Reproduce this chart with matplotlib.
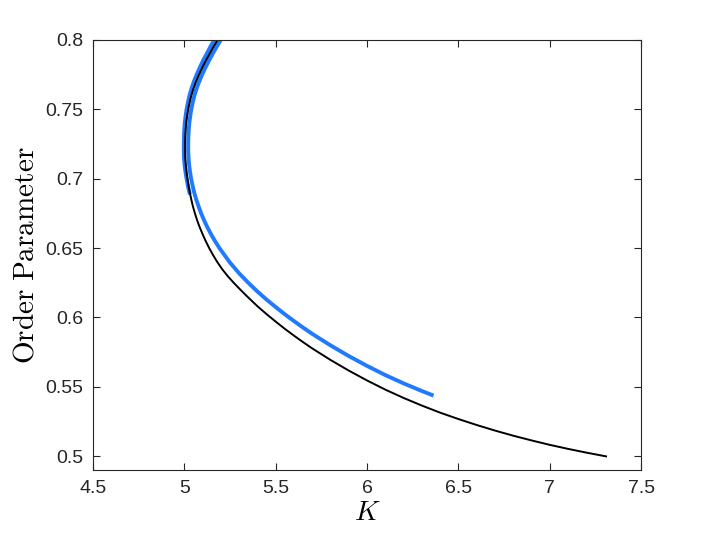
import matplotlib
matplotlib.use("Agg")
import matplotlib.pyplot as plt

# Black curve (K, order parameter)
K_black = [5.182, 5.159, 5.138, 5.117, 5.098, 5.080, 5.064, 5.050, 5.038, 5.029,
           5.021, 5.015, 5.010, 5.007, 5.005, 5.004, 5.004, 5.005, 5.008, 5.012,
           5.017, 5.023, 5.030, 5.038, 5.047, 5.058, 5.070, 5.084, 5.100, 5.117,
           5.136, 5.157, 5.180, 5.206, 5.236, 5.270, 5.307, 5.345, 5.400, 5.450,
           5.500, 5.550, 5.600, 5.650, 5.700, 5.800, 5.900, 6.000, 6.100, 6.200,
           6.300, 6.400, 6.500, 6.600, 6.700, 6.800, 6.900, 7.000, 7.100, 7.200,
           7.308]
r_black = [0.800, 0.795, 0.790, 0.785, 0.780, 0.775, 0.770, 0.765, 0.760, 0.755,
           0.750, 0.745, 0.740, 0.735, 0.730, 0.725, 0.720, 0.715, 0.710, 0.705,
           0.700, 0.695, 0.690, 0.685, 0.680, 0.675, 0.670, 0.665, 0.660, 0.655,
           0.650, 0.645, 0.640, 0.635, 0.630, 0.625, 0.620, 0.615, 0.6081, 0.6024,
           0.5970, 0.5918, 0.5869, 0.5822, 0.5777, 0.5694, 0.5617, 0.5546, 0.5480, 0.5420,
           0.5365, 0.5314, 0.5268, 0.5225, 0.5185, 0.5148, 0.5114, 0.5082, 0.5053, 0.5026,
           0.4999]

# Blue curve, right/lower branch
K_blue = [5.199, 5.176, 5.155, 5.134, 5.115, 5.097, 5.081, 5.067, 5.055, 5.046,
          5.038, 5.032, 5.027, 5.024, 5.022, 5.021, 5.021, 5.023, 5.026, 5.031,
          5.037, 5.045, 5.054, 5.065, 5.078, 5.092, 5.108, 5.126, 5.146, 5.168,
          5.192, 5.250, 5.300, 5.350, 5.400, 5.450, 5.500, 5.550, 5.600, 5.650,
          5.700, 5.800, 5.900, 6.000, 6.100, 6.200, 6.300, 6.354]
r_blue = [0.800, 0.795, 0.790, 0.785, 0.780, 0.775, 0.770, 0.765, 0.760, 0.755,
          0.750, 0.745, 0.740, 0.735, 0.730, 0.725, 0.720, 0.715, 0.710, 0.705,
          0.700, 0.695, 0.690, 0.685, 0.680, 0.675, 0.670, 0.665, 0.660, 0.655,
          0.650, 0.6395, 0.6318, 0.6250, 0.6187, 0.6129, 0.6075, 0.6023, 0.5974, 0.5927,
          0.5882, 0.5799, 0.5722, 0.5651, 0.5585, 0.5525, 0.5470, 0.5442]

# Blue curve, left/upper branch
K_blue2 = [5.164, 5.142, 5.122, 5.102, 5.084, 5.067, 5.052, 5.039, 5.028, 5.0195,
           5.012, 5.0065, 5.002, 4.9995, 4.998, 4.997, 4.997, 4.998, 5.001, 5.006,
           5.012, 5.019, 5.028]
r_blue2 = [0.800, 0.795, 0.790, 0.785, 0.780, 0.775, 0.770, 0.765, 0.760, 0.755,
           0.750, 0.745, 0.740, 0.735, 0.730, 0.725, 0.720, 0.715, 0.710, 0.705,
           0.700, 0.695, 0.690]

x_ticks = [4.5, 5, 5.5, 6, 6.5, 7, 7.5]
x_ticklabels = ["4.5", "5", "5.5", "6", "6.5", "7", "7.5"]
y_ticks = [0.5, 0.55, 0.6, 0.65, 0.7, 0.75, 0.8]
y_ticklabels = ["0.5", "0.55", "0.6", "0.65", "0.7", "0.75", "0.8"]

plt.rcParams['mathtext.fontset'] = 'cm'
plt.rcParams['font.family'] = ['Liberation Sans', 'DejaVu Sans']
fig = plt.figure(figsize=(7.10, 5.33), dpi=100)
ax = fig.add_axes([0.131, 0.118, 0.772, 0.807])

blue = '#1F7AFF'
ax.plot(K_blue, r_blue, color=blue, lw=2.8)
ax.plot(K_blue2, r_blue2, color=blue, lw=2.8)
ax.plot(K_black, r_black, color='black', lw=1.4)

ax.set_xlim(4.5, 7.5)
ax.set_ylim(0.49, 0.8)
ax.set_xticks(x_ticks)
ax.set_xticklabels(x_ticklabels)
ax.set_yticks(y_ticks)
ax.set_yticklabels(y_ticklabels)

edge = '#262626'
for s in ax.spines.values():
    s.set_color(edge)
    s.set_linewidth(0.8)
ax.tick_params(direction='in', length=5, width=0.8, color=edge,
               top=True, right=True, labelsize=14, labelcolor='#262626', pad=7)

ax.set_xlabel(r'$K$', fontsize=20, labelpad=2)
ax.set_ylabel(r'$\mathrm{Order\ Parameter}$', fontsize=21, labelpad=4)

fig.savefig('out.png', dpi=100)
